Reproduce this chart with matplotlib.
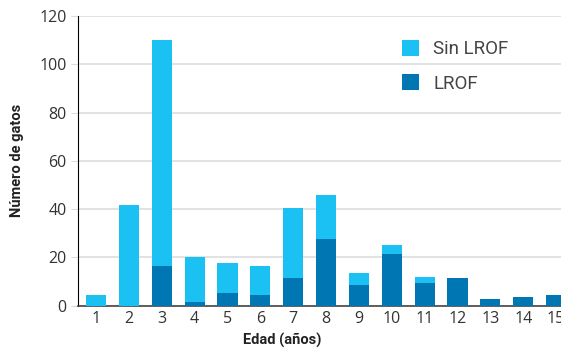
import numpy as np
import matplotlib.pyplot as plt

# edades y numero de gatos
edad = np.arange(1, 16)
lrof = np.array([0, 0, 16.5, 1.5, 5.3, 4.4, 11.5, 27.6, 8.6, 21.4, 9.4, 11.5, 2.8, 3.6, 4.4])
total = np.array([4.4, 41.7, 110, 20.2, 17.7, 16.4, 40.5, 45.9, 13.5, 25.1, 11.9, 11.5, 2.8, 3.6, 4.4])
sin_lrof = total - lrof

c_claro = '#1bc1f2'
c_oscuro = '#0077b3'

fig = plt.figure(figsize=(5.61, 3.48), dpi=100)
ax = fig.add_axes([0.139, 0.1216, 0.861, 0.8324])

ax.bar(edad, lrof, width=0.61, color=c_oscuro, label='LROF', zorder=3)
ax.bar(edad, sin_lrof, width=0.61, bottom=lrof, color=c_claro, label='Sin LROF', zorder=3)

ax.set_xlim(0.45, 15.15)
ax.set_ylim(0, 120)
ax.set_yticks(np.arange(0, 121, 20))
ax.set_xticks(edad)
ax.grid(axis='y', color='#dddddd', linewidth=1.2, zorder=0)

for s in ['top', 'right']:
    ax.spines[s].set_visible(False)
ax.spines['left'].set_color('black')
ax.spines['bottom'].set_color('#444444')
ax.spines['bottom'].set_linewidth(1.2)
ax.tick_params(axis='y', length=5, color='#dddddd', labelsize=11.5, labelcolor='#333333', pad=3)
ax.tick_params(axis='x', length=0, labelsize=11.5, labelcolor='#333333', pad=4)
for t in ax.get_xticklabels() + ax.get_yticklabels():
    t.set_family('Open Sans')

ax.set_ylabel('Número de gatos', fontsize=10.5, fontweight='bold',
              family='Roboto', color='#222222')
ax.yaxis.set_label_coords(-0.112, 0.5)
ax.set_xlabel('Edad (años)', fontsize=10.5, fontweight='bold',
              family='Roboto', color='#222222')
ax.xaxis.set_label_coords(0.422, -0.094)

h, l = ax.get_legend_handles_labels()
leg = ax.legend(h[::-1], l[::-1], loc='upper left', bbox_to_anchor=(0.635, 0.975),
                frameon=False, handlelength=0.95, handleheight=0.9, handletextpad=0.75,
                labelspacing=0.85,
                prop={'family': 'Roboto', 'size': 13.5})
for t in leg.get_texts():
    t.set_color('#444444')

fig.savefig('out.png', dpi=100)
